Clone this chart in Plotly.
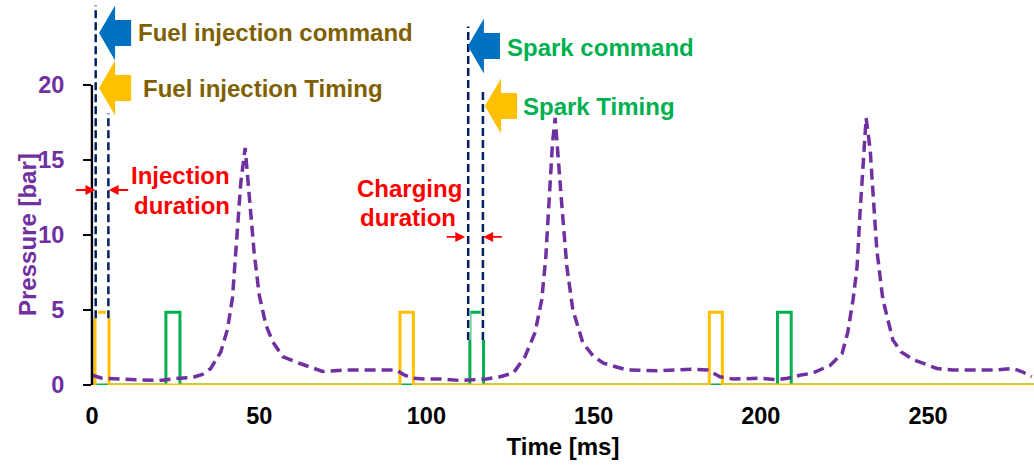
import plotly.graph_objects as go

# 압력 곡선 (ms, bar)
time_ms = [0, 3, 8, 14, 20, 26, 30, 33, 35.5, 38.5, 40.5, 42, 43.5, 44.5, 45.8, 47, 48.5, 50, 52, 54,
           57, 62, 69, 76, 84, 91, 93.5, 96, 100, 105, 110, 114, 118, 122, 126, 129.5, 132.5, 134.5,
           135.7, 136.7, 137.7, 138.5, 139.4, 140.6, 142, 143.8, 146.8, 150, 153, 160, 169, 176, 180,
           184, 187.8, 191.7, 196, 200, 204.8, 208, 211.7, 215.6, 218.6, 220.7, 224.3, 226, 227.6,
           228.8, 229.6, 230.5, 231.5, 232.7, 233.6, 234.7, 236.5, 239.5, 242, 245.5, 252.7, 257.5,
           265, 270, 275.4, 278, 281]
pressure = [0.65, 0.45, 0.4, 0.35, 0.3, 0.45, 0.5, 0.7, 1.1, 2.2, 3.7, 5.8, 10.0, 13.5, 15.8, 12.8, 8.8, 6.0, 4.0, 2.9,
            1.9, 1.45, 0.9, 1.0, 1.0, 1.0, 0.65, 0.45, 0.4, 0.4, 0.3, 0.35, 0.4, 0.55, 0.8, 1.9, 3.5, 5.7,
            8.5, 12.3, 16.1, 17.8, 15.0, 11.7, 7.9, 5.0, 2.8, 1.9, 1.45, 1.0, 0.95, 1.0, 1.05,
            1.0, 0.55, 0.4, 0.4, 0.45, 0.35, 0.45, 0.65, 0.8, 1.1, 1.3, 2.1, 3.5, 5.7,
            7.9, 11.2, 14.5, 17.8, 15.7, 12.3, 9.0, 5.7, 3.0, 2.2, 1.7, 1.1, 1.0,
            1.0, 1.0, 1.1, 0.9, 0.55]

# 분사/점화 신호 펄스 (시작, 끝)
inj_on = [0.9, 92.1, 184.6]
inj_off = [5.1, 96.1, 188.5]
spark_on = [22.1, 113.0, 205.0]
spark_off = [26.3, 117.1, 209.1]
pulse_high = 4.85
t_end = 281.7

# 명령/타이밍 점선 (x, y 하단, y 상단)
event_x = [1.1, 4.9, 112.5, 116.9]
event_y0 = [4.45, 4.45, 3.0, 3.0]
event_y1 = [25.3, 18.1, 23.9, 19.8]

# 화살표 끝점
arrow_x = [2.1, 2.1, 112.4, 117.5]
arrow_y = [23.47, 19.8, 22.6, 18.6]
arrow_col = ['#0070C0', '#FFC000', '#0070C0', '#FFC000']

FONT = 'Arial, Liberation Sans, sans-serif'
PURPLE = '#7030A0'
NAVY = '#002060'
FS = 24


def square_wave(ons, offs, high, end):
    xs, ys = [0], [0]
    for a, b in zip(ons, offs):
        xs += [a, a, b, b]
        ys += [0, high, high, 0]
    xs.append(end)
    ys.append(0)
    return xs, ys


def arrow_path(xt, yt, head=4.8, total=9.6, hh=1.83, sh=0.87):
    pts = [(xt, yt), (xt + head, yt + hh), (xt + head, yt + sh), (xt + total, yt + sh),
           (xt + total, yt - sh), (xt + head, yt - sh), (xt + head, yt - hh)]
    return 'M ' + ' L '.join(f'{x},{y}' for x, y in pts) + ' Z'


fig = go.Figure()

sx, sy = square_wave(spark_on, spark_off, pulse_high, t_end)
fig.add_trace(go.Scatter(x=sx, y=sy, mode='lines', line=dict(color='#00B050', width=3),
                         showlegend=False, cliponaxis=False))
ix, iy = square_wave(inj_on, inj_off, pulse_high, t_end)
fig.add_trace(go.Scatter(x=ix, y=iy, mode='lines', line=dict(color='#FFC000', width=3),
                         showlegend=False, cliponaxis=False))
fig.add_trace(go.Scatter(x=time_ms, y=pressure, mode='lines',
                         line=dict(color=PURPLE, width=3.5, dash='11px,6px'),
                         showlegend=False))

shapes = []
# y축 선 (0~20만)
shapes.append(dict(type='line', xref='paper', yref='y', x0=0, x1=0, y0=0, y1=20,
                   line=dict(color='black', width=2.5), layer='above'))
for x, y0, y1 in zip(event_x, event_y0, event_y1):
    shapes.append(dict(type='line', xref='x', yref='y', x0=x, x1=x, y0=y0, y1=y1,
                       line=dict(color='white', width=4.5), layer='above'))
    shapes.append(dict(type='line', xref='x', yref='y', x0=x, x1=x, y0=y0, y1=y1,
                       line=dict(color=NAVY, width=2.5, dash='8px,4px'), layer='above'))
for x, y, c in zip(arrow_x, arrow_y, arrow_col):
    shapes.append(dict(type='path', xref='x', yref='y', path=arrow_path(x, y),
                       fillcolor=c, line=dict(color=c, width=0), layer='above'))

ann = []
def label(x, y, text, color, anchor='left'):
    ann.append(dict(x=x, y=y, xref='x', yref='y', text=text, showarrow=False, xanchor=anchor,
                    yanchor='middle', font=dict(family=FONT, size=FS, color=color, weight='bold')))

label(13.2, 23.47, 'Fuel injection command', '#7F6000')
label(14.7, 19.8, 'Fuel injection Timing', '#7F6000')
label(123.4, 22.5, 'Spark command', '#00B050')
label(128.2, 18.6, 'Spark Timing', '#00B050')
label(26.6, 14.0, 'Injection', '#FF0000', 'center')
label(27.0, 12.0, 'duration', '#FF0000', 'center')
label(94.8, 13.1, 'Charging', '#FF0000', 'center')
label(94.6, 11.2, 'duration', '#FF0000', 'center')

# y축 제목 (0~20 구간 중앙)
ann.append(dict(x=0, y=10, xref='paper', yref='y', xshift=-65, text='Pressure [bar]',
                textangle=-90, showarrow=False, xanchor='center', yanchor='middle',
                font=dict(family=FONT, size=FS, color=PURPLE, weight='bold')))

# 기간 표시 빨간 화살표
for x, y, ax in [(1.0, 13.0, -21), (5.0, 13.0, 21), (111.6, 9.87, -20), (117.0, 9.87, 20)]:
    ann.append(dict(x=x, y=y, xref='x', yref='y', ax=ax, ay=0, text='', showarrow=True,
                    arrowhead=2, arrowsize=1.1, arrowwidth=1.8, arrowcolor='#FF0000', standoff=0))

fig.update_layout(
    width=1034, height=465,
    margin=dict(l=92, r=0, t=0, b=80),
    plot_bgcolor='white', paper_bgcolor='white',
    shapes=shapes, annotations=ann,
    xaxis=dict(range=[0, t_end], tickvals=[0, 50, 100, 150, 200, 250], showgrid=False,
               zeroline=False, showline=False, ticks='', ticklabelstandoff=14,
               tickfont=dict(family=FONT, size=23.5, color='black', weight='bold'),
               title=dict(text='Time [ms]', standoff=10,
                          font=dict(family=FONT, size=FS, color='black', weight='bold'))),
    yaxis=dict(range=[0, 385 / 15], tickvals=[0, 5, 10, 15, 20], showgrid=False,
               zeroline=False, showline=False, ticks='outside', ticklen=8, tickwidth=2,
               tickcolor='black', ticklabelstandoff=14,
               tickfont=dict(family=FONT, size=23.5, color=PURPLE, weight='bold')),
)

fig.write_html('out.html', config={'displayModeBar': False},
               post_script="document.body.style.margin='0';")
